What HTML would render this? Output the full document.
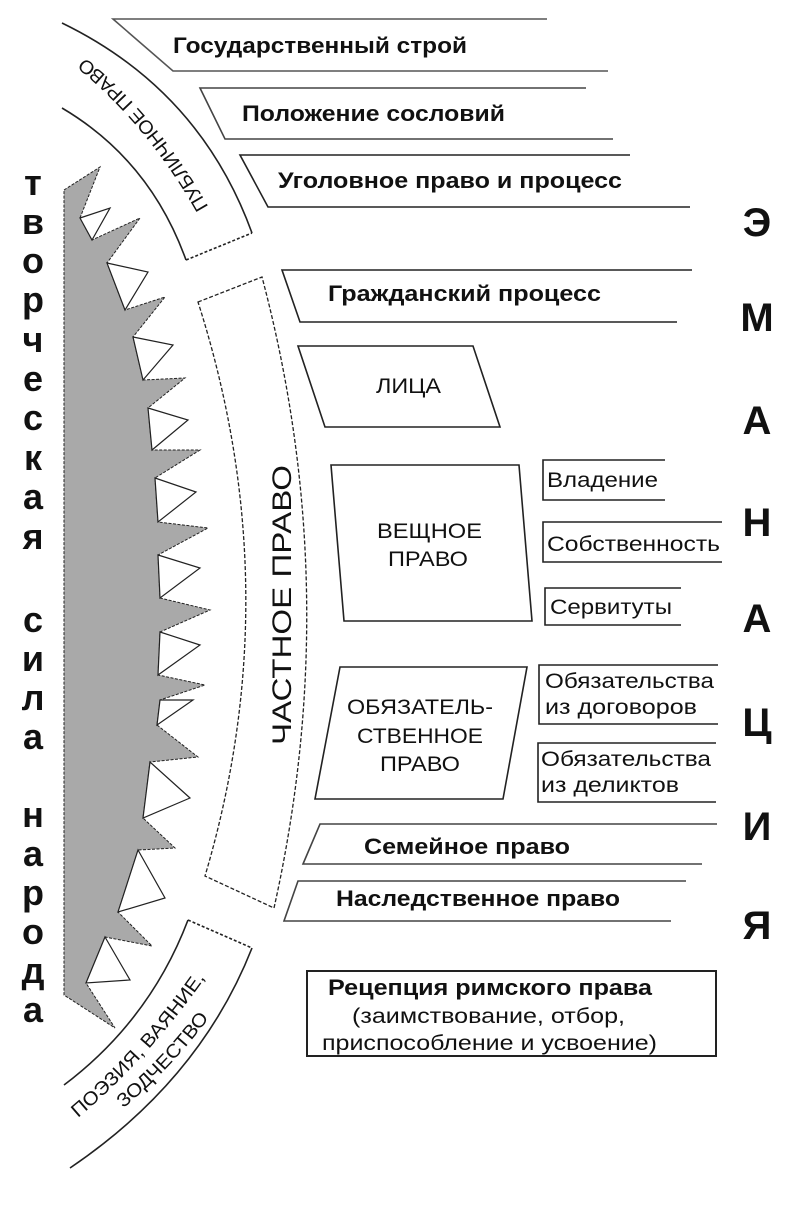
<!DOCTYPE html>
<html><head><meta charset="utf-8"><style>
html,body{margin:0;padding:0;background:#fff;}
svg{display:block;}
text{font-family:"Liberation Sans",Arial,sans-serif;fill:#111;}
.b{font-weight:bold;font-size:22px;}
.n{font-size:21px;}
.big{font-weight:bold;font-size:40px;}
.side{font-weight:bold;font-size:36px;}
</style></head><body>
<svg width="800" height="1207" viewBox="0 0 800 1207" xmlns="http://www.w3.org/2000/svg">
<g fill="none" stroke="#222" stroke-width="1.6">
<polyline points="547,19 113,19 173,71 608,71" stroke="#555"/>
<polyline points="586,88 200,88 225,139 613,139" stroke="#444"/>
<polyline points="630,155 240,155 268,207 690,207"/>
<polyline points="692,270 282,270 300,322 677,322"/>
<polygon points="298,346 473,346 500,427 325,427"/>
<polygon points="331,465 519,465 532,621 344,621"/>
<polygon points="340,667 527,667 503,799 315,799"/>
<polyline points="665,460 543,460 543,500 665,500"/>
<polyline points="722,522 543,522 543,562 722,562"/>
<polyline points="681,588 545,588 545,625 681,625"/>
<polyline points="718,665 539,665 539,724 718,724"/>
<polyline points="716,743 538,743 538,802 716,802"/>
<polyline points="717,824 320,824 303,864 702,864" stroke="#444"/>
<polyline points="686,881 298,881 284,921 671,921" stroke="#444"/>
<rect x="307" y="971" width="409" height="85" stroke-width="2"/>
<path d="M62,23 Q200,90 252,233"/>
<path d="M62,108 Q150,160 186,260"/>
<path d="M186,260 L252,233" stroke-dasharray="3,2"/>
<path d="M198,302 L262,277 Q345,590 274,908 L205,876 Q290,590 198,302 Z" stroke-dasharray="4,2" stroke-width="1.3"/>
<path d="M70,1168 Q200,1080 252,948"/>
<path d="M64,1085 Q150,1020 188,920"/>
<path d="M188,920 L252,948" stroke-dasharray="3,2"/>
</g>
<polygon fill="#a9a9a9" stroke="#222" stroke-width="1" stroke-dasharray="3,1.5" points="64,190 100,167 80,218 92,240 140,218 107,263 125,310 165,297 133,337 143,380 185,378 148,408 152,450 200,450 155,478 158,522 208,528 158,555 160,598 210,610 160,632 158,675 205,685 160,700 157,725 198,757 150,762 143,818 175,848 138,850 118,912 152,946 105,937 86,983 115,1028 64,995"/>
<g fill="#fff" stroke="#222" stroke-width="1.2">
<polygon points="80,218 110,208 92,240"/>
<polygon points="107,263 148,272 125,310"/>
<polygon points="133,337 173,345 143,380"/>
<polygon points="148,408 188,420 152,450"/>
<polygon points="155,478 196,492 158,522"/>
<polygon points="158,555 200,568 160,598"/>
<polygon points="160,632 200,645 158,675"/>
<polygon points="160,700 193,700 157,725"/>
<polygon points="150,762 190,798 143,818"/>
<polygon points="138,850 165,898 118,912"/>
<polygon points="105,937 130,980 86,983"/>
</g>
<defs>
<path id="pp" d="M222,232 Q160,110 62,40"/>
<path id="pz1" d="M66,1128 Q150,1060 214,965"/>
<path id="pz2" d="M106,1122 Q172,1072 222,1000"/>
</defs>
<text font-size="19"><textPath href="#pp" startOffset="50%" text-anchor="middle" textLength="195" lengthAdjust="spacingAndGlyphs">ПУБЛИЧНОЕ ПРАВО</textPath></text>
<text font-size="19"><textPath href="#pz1" startOffset="50%" text-anchor="middle" textLength="190" lengthAdjust="spacingAndGlyphs">ПОЭЗИЯ, ВАЯНИЕ,</textPath></text>
<text font-size="19"><textPath href="#pz2" startOffset="50%" text-anchor="middle" textLength="125" lengthAdjust="spacingAndGlyphs">ЗОДЧЕСТВО</textPath></text>
<text font-size="27" transform="translate(291,605) rotate(-90)" text-anchor="middle" textLength="280" lengthAdjust="spacingAndGlyphs">ЧАСТНОЕ ПРАВО</text>
<text class="b" x="173" y="53" textLength="294" lengthAdjust="spacingAndGlyphs">Государственный строй</text>
<text class="b" x="242" y="121" textLength="263" lengthAdjust="spacingAndGlyphs">Положение сословий</text>
<text class="b" x="278" y="188" textLength="344" lengthAdjust="spacingAndGlyphs">Уголовное право и процесс</text>
<text class="b" x="328" y="301" textLength="273" lengthAdjust="spacingAndGlyphs">Гражданский процесс</text>
<text class="n" x="376" y="393" textLength="65" lengthAdjust="spacingAndGlyphs">ЛИЦА</text>
<text class="n" x="377" y="538" textLength="105" lengthAdjust="spacingAndGlyphs">ВЕЩНОЕ</text>
<text class="n" x="388" y="566" textLength="80" lengthAdjust="spacingAndGlyphs">ПРАВО</text>
<text class="n" x="347" y="714" textLength="146" lengthAdjust="spacingAndGlyphs">ОБЯЗАТЕЛЬ-</text>
<text class="n" x="357" y="743" textLength="126" lengthAdjust="spacingAndGlyphs">СТВЕННОЕ</text>
<text class="n" x="380" y="771" textLength="80" lengthAdjust="spacingAndGlyphs">ПРАВО</text>
<text class="n" x="547" y="487" textLength="111" lengthAdjust="spacingAndGlyphs">Владение</text>
<text class="n" x="547" y="551" textLength="173" lengthAdjust="spacingAndGlyphs">Собственность</text>
<text class="n" x="550" y="614" textLength="122" lengthAdjust="spacingAndGlyphs">Сервитуты</text>
<text class="n" x="545" y="688" textLength="169" lengthAdjust="spacingAndGlyphs">Обязательства</text>
<text class="n" x="545" y="714" textLength="152" lengthAdjust="spacingAndGlyphs">из договоров</text>
<text class="n" x="541" y="766" textLength="170" lengthAdjust="spacingAndGlyphs">Обязательства</text>
<text class="n" x="541" y="792" textLength="138" lengthAdjust="spacingAndGlyphs">из деликтов</text>
<text class="b" x="364" y="854" textLength="206" lengthAdjust="spacingAndGlyphs">Семейное право</text>
<text class="b" x="336" y="906" textLength="284" lengthAdjust="spacingAndGlyphs">Наследственное право</text>
<text class="b" x="328" y="995" textLength="324" lengthAdjust="spacingAndGlyphs">Рецепция римского права</text>
<text class="n" x="352" y="1023" textLength="273" lengthAdjust="spacingAndGlyphs">(заимствование, отбор,</text>
<text class="n" x="322" y="1050" textLength="335" lengthAdjust="spacingAndGlyphs">приспособление и усвоение)</text>
<g text-anchor="middle">
<text class="big" x="757" y="236">Э</text>
<text class="big" x="757" y="331">М</text>
<text class="big" x="757" y="434">А</text>
<text class="big" x="757" y="536">Н</text>
<text class="big" x="757" y="632">А</text>
<text class="big" x="757" y="736">Ц</text>
<text class="big" x="757" y="840">И</text>
<text class="big" x="757" y="939">Я</text>
</g>
<g text-anchor="middle">
<text class="side" x="33" y="195">т</text>
<text class="side" x="33" y="234">в</text>
<text class="side" x="33" y="273">о</text>
<text class="side" x="33" y="312">р</text>
<text class="side" x="33" y="352">ч</text>
<text class="side" x="33" y="391">е</text>
<text class="side" x="33" y="430">с</text>
<text class="side" x="33" y="470">к</text>
<text class="side" x="33" y="509">а</text>
<text class="side" x="33" y="549">я</text>
<text class="side" x="33" y="632">с</text>
<text class="side" x="33" y="671">и</text>
<text class="side" x="33" y="710">л</text>
<text class="side" x="33" y="749">а</text>
<text class="side" x="33" y="827">н</text>
<text class="side" x="33" y="866">а</text>
<text class="side" x="33" y="905">р</text>
<text class="side" x="33" y="944">о</text>
<text class="side" x="33" y="983">д</text>
<text class="side" x="33" y="1022">а</text>
</g>
</svg>
</body></html>
